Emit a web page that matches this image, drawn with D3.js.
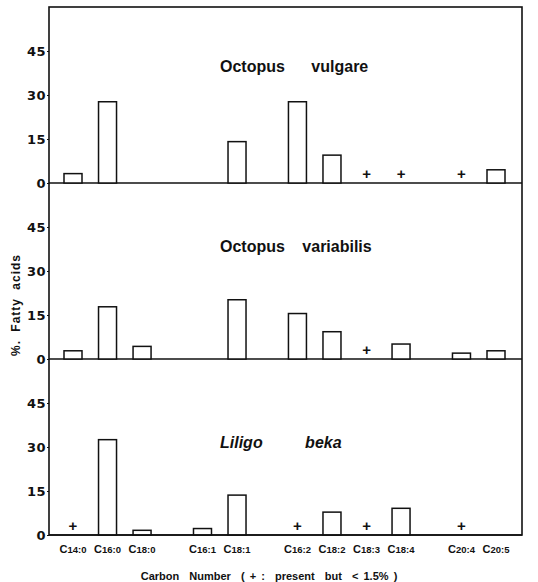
<!DOCTYPE html>
<html>
<head>
<meta charset="utf-8">
<script src="https://cdn.jsdelivr.net/npm/d3@7"></script>
<style>
body { margin: 0; background: #fff; }
text { font-family: "Liberation Sans", Arial, sans-serif; font-weight: bold; fill: #111; }
</style>
</head>
<body>
<div class="container"></div>
<script>

// carbon numbers, and which cluster each one sits in along the axis
var acids = ["14:0", "16:0", "18:0", "16:1", "18:1", "16:2", "18:2", "18:3", "18:4", "20:4", "20:5"];
var groups = [0, 0, 0, 1, 1, 2, 2, 2, 2, 3, 3];

var species = ["Octopus vulgare", "Octopus variabilis", "Liligo beka"];

// "+" = present but < 1.5 %, null = not found
var T = "+";
var vulgare    = [3.2, 27.7, null, null, 14.1, 27.7, 9.5, T, T, T, 4.5];
var variabilis = [2.8, 17.8, 4.3, null, 20.2, 15.5, 9.3, T, 5.1, 2.0, 2.8];
var beka       = [T, 32.5, 1.6, 2.2, 13.6, T, 7.8, T, 9.1, T, null];
var series = [vulgare, variabilis, beka];

var yTicks = [0, 15, 30, 45];

var W = 538, H = 582;
var plotL = 49, plotR = 522, plotT = 7, panelH = 176;

var svg = d3.select(".container")
			.append("svg")
			.attr("width", W)
			.attr("height", H);

function slot(i) { return i + 0.75 * groups[i]; }

var x = d3.scaleLinear()
		  .domain([slot(0), slot(acids.length - 1)])
		  .range([73, 496]);

var barW = 18;
// the species names sit a bit differently in each panel
var titleDy = [65, 69, 89];
var titleGap = ["22px", "13px", "38px"];

series.forEach(function (vals, p) {
	var y0 = plotT + p * panelH;
	var y = d3.scaleLinear().domain([0, 60]).range([y0 + panelH, y0]);
	var g = svg.append("g");

	// baseline
	g.append("line")
	 .attr("x1", plotL).attr("x2", plotR)
	 .attr("y1", y(0)).attr("y2", y(0))
	 .style("stroke", "#111").style("stroke-width", "1.6px");

	var ax = g.append("g")
			  .attr("transform", "translate(" + plotL + ",0)")
			  .call(d3.axisLeft(y).tickValues(yTicks).tickSize(2).tickPadding(1));
	ax.select(".domain").remove();
	ax.selectAll("line").style("stroke", "#111").style("stroke-width", "1.2px");
	ax.selectAll("text")
	  .style("font-family", "'DejaVu Sans', sans-serif")
	  .style("font-size", "13px")
	  .style("letter-spacing", "0.5px")
	  .attr("fill", "#111");

	var bars = vals.map(function (v, i) { return {i: i, v: v}; })
				   .filter(function (d) { return typeof d.v === "number"; });
	g.selectAll("rect")
	 .data(bars)
	 .enter().append("rect")
	 .attr("x", function (d) { return x(slot(d.i)) - barW / 2; })
	 .attr("y", function (d) { return y(d.v); })
	 .attr("width", barW)
	 .attr("height", function (d) { return y(0) - y(d.v); })
	 .style("fill", "#fff")
	 .style("stroke", "#111")
	 .style("stroke-width", "1.5px");

	var traces = vals.map(function (v, i) { return {i: i, v: v}; })
					 .filter(function (d) { return d.v === T; });
	g.selectAll("text.trace")
	 .data(traces)
	 .enter().append("text")
	 .attr("class", "trace")
	 .attr("x", function (d) { return x(slot(d.i)); })
	 .attr("y", y(0) - 4)
	 .attr("text-anchor", "middle")
	 .style("font-size", "15px")
	 .text("+");

	g.append("text")
	 .attr("x", 220)
	 .attr("y", y0 + titleDy[p])
	 .style("font-size", "16px")
	 .style("word-spacing", titleGap[p])
	 .style("font-style", p == 2 ? "italic" : "normal")
	 .text(species[p]);
});

// frame
var plotB = plotT + 3 * panelH;
svg.append("rect")
   .attr("x", plotL).attr("y", plotT)
   .attr("width", plotR - plotL).attr("height", plotB - plotT)
   .style("fill", "none")
   .style("stroke", "#111")
   .style("stroke-width", "1.6px");

// carbon number labels
var lab = svg.selectAll("text.cn")
			 .data(acids)
			 .enter().append("text")
			 .attr("class", "cn")
			 .attr("x", function (d, i) { return x(slot(i)); })
			 .attr("y", plotB + 18)
			 .attr("text-anchor", "middle")
			 .style("font-size", "11px");
lab.append("tspan").text("C");
lab.append("tspan").style("font-size", "9.5px").text(function (d) { return d; });

svg.append("text")
   .attr("x", 269)
   .attr("y", 580)
   .attr("text-anchor", "middle")
   .attr("xml:space", "preserve")
   .style("font-size", "11px")
   .style("word-spacing", "2px")
   .text("Carbon  Number  ( + :  present  but  < 1.5% )");

svg.append("text")
   .attr("transform", "translate(20,305) rotate(-90)")
   .attr("text-anchor", "middle")
   .style("font-size", "12px")
   .style("letter-spacing", "1px")
   .style("word-spacing", "4px")
   .text("%. Fatty acids");

</script>
</body>
</html>
